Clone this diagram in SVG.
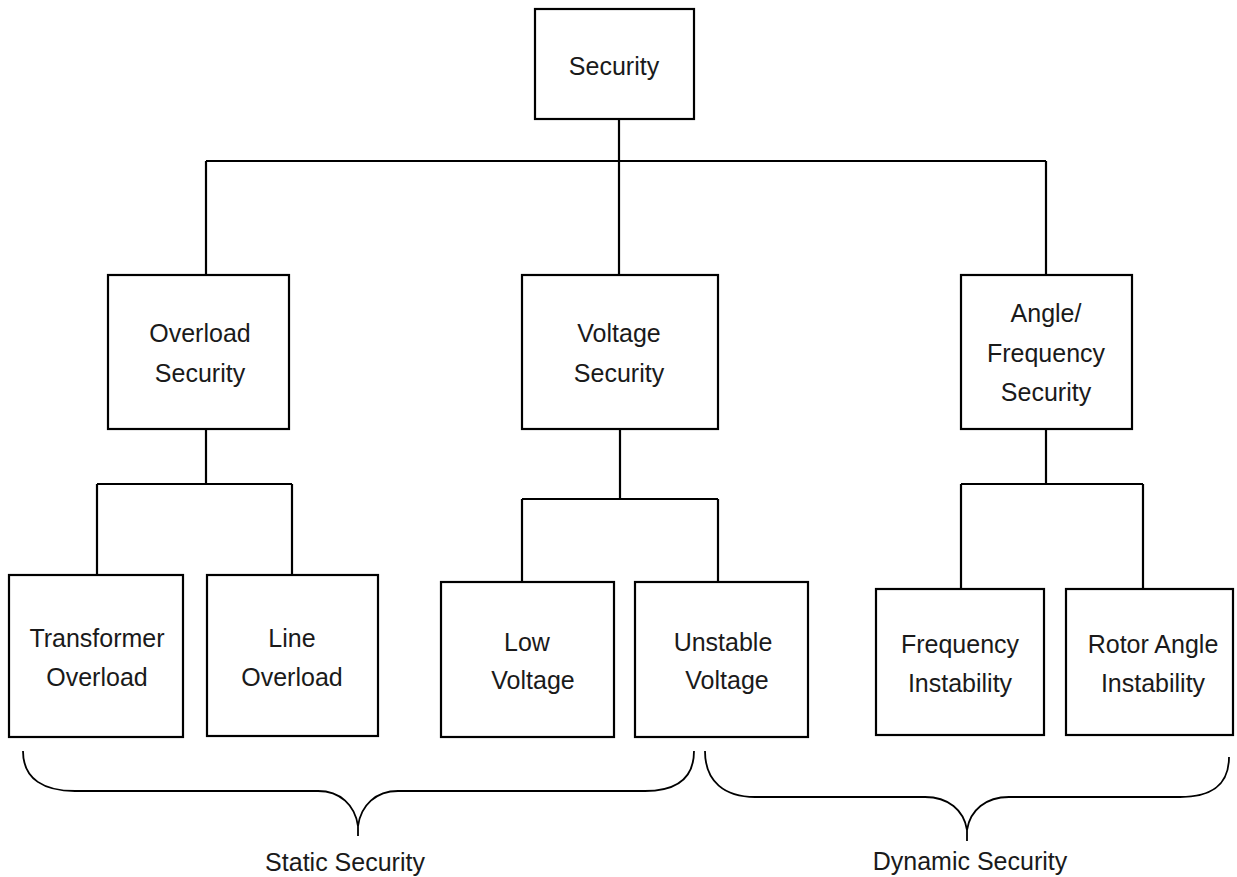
<svg xmlns="http://www.w3.org/2000/svg" width="1237" height="877" viewBox="0 0 1237 877">
  <style>
    .box { fill: #ffffff; stroke: #000000; stroke-width: 2.2; }
    .wire { fill: none; stroke: #000000; stroke-width: 2.2; }
    .brace { fill: none; stroke: #000000; stroke-width: 1.8; }
    text { font-family: "Liberation Sans", Arial, sans-serif; font-size: 25px; fill: #1a1a1a; text-anchor: middle; }
  </style>
  <rect width="1237" height="877" fill="#ffffff"/>

  <!-- tree connectors -->
  <g id="connectors" class="wire">
    <path d="M619,119 V275"/>
    <path d="M206,161 H1046 M206,161 V275 M1046,161 V275"/>
    <path d="M206,429 V484 M97,484 H292 M97,484 V575 M292,484 V575"/>
    <path d="M620,429 V499 M522,499 H718 M522,499 V582 M718,499 V582"/>
    <path d="M1046,429 V484 M961,484 H1143 M961,484 V589 M1143,484 V589"/>
  </g>

  <g id="security">
    <rect class="box" x="535" y="9" width="159" height="110"/>
    <text x="614" y="75">Security</text>
  </g>

  <g id="overload-security">
    <rect class="box" x="108" y="275" width="181" height="154"/>
    <text x="200" y="342">Overload</text>
    <text x="200" y="382">Security</text>
  </g>

  <g id="voltage-security">
    <rect class="box" x="522" y="275" width="196" height="154"/>
    <text x="619" y="342">Voltage</text>
    <text x="619" y="382">Security</text>
  </g>

  <g id="angle-frequency-security">
    <rect class="box" x="961" y="275" width="171" height="154"/>
    <text x="1046" y="322">Angle/</text>
    <text x="1046" y="362">Frequency</text>
    <text x="1046" y="401">Security</text>
  </g>

  <g id="transformer-overload">
    <rect class="box" x="9" y="575" width="174" height="162"/>
    <text x="97" y="647">Transformer</text>
    <text x="97" y="686">Overload</text>
  </g>

  <g id="line-overload">
    <rect class="box" x="207" y="575" width="171" height="161"/>
    <text x="292" y="647">Line</text>
    <text x="292" y="686">Overload</text>
  </g>

  <g id="low-voltage">
    <rect class="box" x="441" y="582" width="173" height="155"/>
    <text x="527" y="651">Low</text>
    <text x="533" y="689">Voltage</text>
  </g>

  <g id="unstable-voltage">
    <rect class="box" x="635" y="582" width="173" height="155"/>
    <text x="723" y="651">Unstable</text>
    <text x="727" y="689">Voltage</text>
  </g>

  <g id="frequency-instability">
    <rect class="box" x="876" y="589" width="168" height="146"/>
    <text x="960" y="653">Frequency</text>
    <text x="960" y="692">Instability</text>
  </g>

  <g id="rotor-angle-instability">
    <rect class="box" x="1066" y="589" width="167" height="146"/>
    <text x="1153" y="653">Rotor Angle</text>
    <text x="1153" y="692">Instability</text>
  </g>

  <!-- grouping braces -->
  <g id="static-security">
    <path class="brace" d="M23,751 C23,780 45,791 75,791 L318,791 C340,791 355,805 358,826 L358,836 M358,826 C361,805 376,791 398,791 L645,791 C675,791 694,780 694,751"/>
    <text x="345" y="871">Static Security</text>
  </g>

  <g id="dynamic-security">
    <path class="brace" d="M705,751 C705,782 725,797 755,797 L925,797 C948,797 964,810 967,830 L967,841 M967,830 C970,810 986,797 1009,797 L1180,797 C1212,797 1229,785 1229,757"/>
    <text x="970" y="870">Dynamic Security</text>
  </g>
</svg>
